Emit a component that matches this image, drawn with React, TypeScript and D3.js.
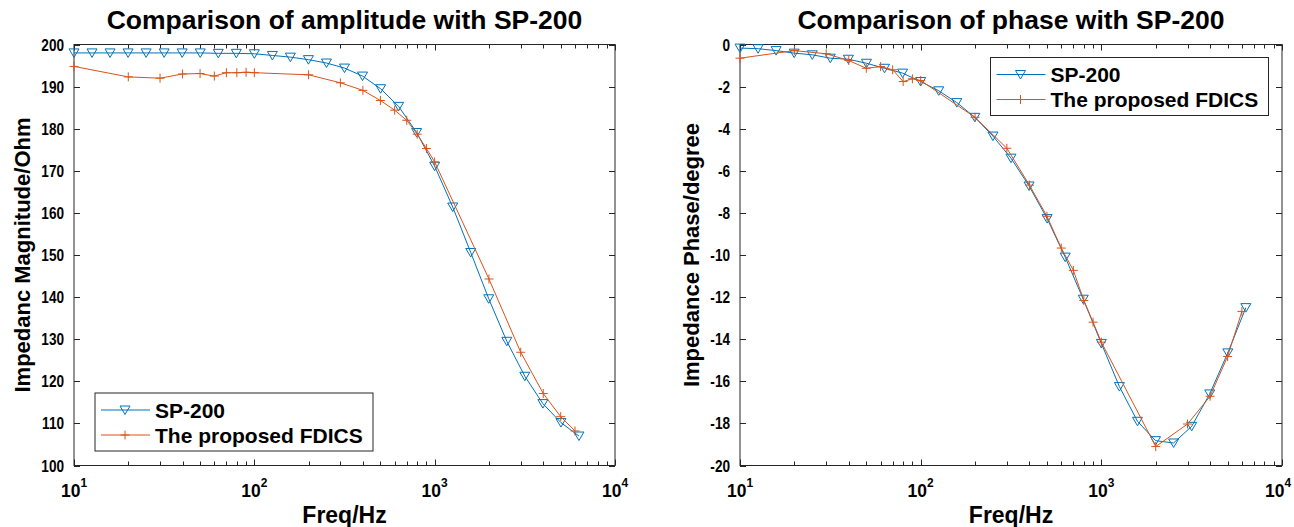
import React from 'react';
import * as d3 from 'd3';

// ---- data ----
const freqSP = [10, 12.59, 15.85, 19.95, 25.12, 31.62, 39.81, 50.12, 63.1, 79.43, 100, 125.9, 158.5, 199.5, 251.2, 316.2, 398.1, 501.2, 631, 794.3, 1000, 1259, 1585, 1995, 2512, 3162, 3981, 5012, 6310];
const ampSP = [198.0, 198.0, 198.0, 198.0, 198.0, 198.0, 198.0, 198.0, 197.9, 197.9, 197.8, 197.4, 197.0, 196.4, 195.6, 194.4, 192.5, 189.5, 185.3, 179.1, 171.1, 161.4, 150.6, 139.6, 129.5, 121.2, 114.7, 110.2, 107.0];
const phaseSP = [-0.17, -0.2, -0.29, -0.41, -0.49, -0.65, -0.7, -0.89, -1.13, -1.36, -1.76, -2.2, -2.76, -3.46, -4.35, -5.4, -6.72, -8.27, -10.1, -12.1, -14.2, -16.25, -17.9, -18.82, -18.93, -18.14, -16.6, -14.65, -12.5];

const freqFD = [10, 20, 30, 40, 50, 60, 70, 80, 90, 100, 200, 300, 400, 500, 600, 700, 800, 900, 1000, 2000, 3000, 4000, 5000, 6000];
const ampFD = [194.8, 192.3, 192.0, 193.0, 193.1, 192.5, 193.3, 193.3, 193.4, 193.3, 192.8, 190.9, 189.1, 186.7, 184.4, 182.0, 178.7, 175.3, 172.1, 144.3, 126.9, 117.1, 111.6, 108.2];
const phaseFD = [-0.65, -0.29, -0.44, -0.76, -1.13, -1.05, -1.2, -1.76, -1.63, -1.71, -3.46, -4.93, -6.68, -8.16, -9.67, -10.73, -12.16, -13.19, -14.14, -19.1, -18.03, -16.71, -14.82, -12.68];

const ampTicks = [100, 110, 120, 130, 140, 150, 160, 170, 180, 190, 200];
const phaseTicks = [0, -2, -4, -6, -8, -10, -12, -14, -16, -18, -20];
const decadeTicks = [10, 100, 1000, 10000];
const decadeExp = ['1', '2', '3', '4'];
const seriesNames = ['SP-200', 'The proposed FDICS'];

const BLUE = '#0072BD';
const ORANGE = '#D95319';
const AX = '#262626';
const FONT = '"Liberation Sans", Arial, Helvetica, sans-serif';

const W = 1294;
const H = 527;

function Tri({ x, y, color }: { x: number; y: number; color: string }) {
  return <path d={`M${x - 5},${y - 4}L${x + 5},${y - 4}L${x},${y + 4.5}Z`} fill="none" stroke={color} strokeWidth={1} />;
}
function Plus({ x, y, color }: { x: number; y: number; color: string }) {
  return <path d={`M${x - 4.5},${y}H${x + 4.5}M${x},${y - 4.5}V${y + 4.5}`} fill="none" stroke={color} strokeWidth={1} />;
}

function CText({ x, y, sx, anchor, size, children }: { x: number; y: number; sx: number; anchor: string; size: number; children: any }) {
  return (
    <text transform={`translate(${x},${y}) scale(${sx},1)`} textAnchor={anchor} fontSize={size} fill="#000">{children}</text>
  );
}

type PanelProps = {
  left: number; right: number; top: number; bottom: number;
  yDomain: [number, number]; yTicks: number[];
  ySP: number[]; yFD: number[];
  title: string; ylabel: string; ylabelX: number;
  legendX: number; legendY: number; lastShift: number;
};

function Panel(p: PanelProps) {
  const x = d3.scaleLog().domain([10, 10000]).range([p.left, p.right]);
  const y = d3.scaleLinear().domain(p.yDomain).range([p.bottom, p.top]);
  const allTicks = x.ticks();
  const line = d3.line<[number, number]>().x(d => x(d[0])).y(d => y(d[1]));
  const sp: [number, number][] = freqSP.map((f, i) => [f, p.ySP[i]]);
  const fd: [number, number][] = freqFD.map((f, i) => [f, p.yFD[i]]);
  const cx = (p.left + p.right) / 2;
  const cy = (p.top + p.bottom) / 2;
  const LW = 278, LH = 58;
  return (
    <g fontFamily={FONT} fontWeight="bold">
      <text x={cx} y={29} textAnchor="middle" fontSize={26.5} fill="#000">{p.title}</text>
      {/* axes box */}
      <rect x={p.left} y={p.top} width={p.right - p.left} height={p.bottom - p.top} fill="none" stroke={AX} strokeWidth={1} />
      {allTicks.map((t, i) => {
        const major = decadeTicks.includes(t);
        const len = major ? 6 : 4;
        const xx = Math.round(x(t)) + 0.5;
        return (
          <g key={'xt' + i} stroke={AX} strokeWidth={1}>
            <line x1={xx} x2={xx} y1={p.bottom} y2={p.bottom - len} />
            <line x1={xx} x2={xx} y1={p.top} y2={p.top + len} />
          </g>
        );
      })}
      {p.yTicks.map((t, i) => {
        const yy = Math.round(y(t)) + 0.5;
        return (
          <g key={'yt' + i}>
            <line x1={p.left} x2={p.left + 6} y1={yy} y2={yy} stroke={AX} />
            <line x1={p.right} x2={p.right - 6} y1={yy} y2={yy} stroke={AX} />
            <CText x={p.left - 10} y={yy + 5.5} sx={0.85} anchor="end" size={16}>{t}</CText>
          </g>
        );
      })}
      {decadeTicks.map((t, i) => (
        <CText key={'xl' + i} x={x(t) + (i === 3 ? p.lastShift : 0)} y={497} sx={0.92} anchor="middle" size={19}>
          10<tspan dy={-10} fontSize={13}>{decadeExp[i]}</tspan>
        </CText>
      ))}
      <text x={cx} y={523} textAnchor="middle" fontSize={23} fill="#000">Freq/Hz</text>
      <text transform={`translate(${p.ylabelX},${cy}) rotate(-90)`} textAnchor="middle" fontSize={22} fill="#000">{p.ylabel}</text>
      {/* series */}
      <path d={line(sp) || ''} fill="none" stroke={BLUE} strokeWidth={1} />
      {sp.map((d, i) => <Tri key={'s' + i} x={x(d[0])} y={y(d[1])} color={BLUE} />)}
      <path d={line(fd) || ''} fill="none" stroke={ORANGE} strokeWidth={1} />
      {fd.map((d, i) => <Plus key={'f' + i} x={x(d[0])} y={y(d[1])} color={ORANGE} />)}
      {/* legend */}
      <g transform={`translate(${p.legendX},${p.legendY})`}>
        <rect x={0} y={0} width={LW} height={LH} fill="#fff" stroke={AX} strokeWidth={1} />
        <line x1={6} x2={55} y1={17} y2={17} stroke={BLUE} />
        <Tri x={30} y={17} color={BLUE} />
        <text x={60} y={17} dy="0.36em" fontSize={21} fill="#000">{seriesNames[0]}</text>
        <line x1={6} x2={55} y1={42} y2={42} stroke={ORANGE} />
        <Plus x={30} y={42} color={ORANGE} />
        <text x={60} y={42} dy="0.36em" fontSize={21} fill="#000">{seriesNames[1]}</text>
      </g>
    </g>
  );
}

export default function App() {
  return (
    <svg width={W} height={H} style={{ position: 'absolute', left: 0, top: 0, background: '#fff' }}>
      <rect x={0} y={0} width={W} height={H} fill="#fff" />
      <Panel left={74} right={615} top={44.5} bottom={465.5} yDomain={[100, 200]} yTicks={ampTicks}
        ySP={ampSP} yFD={ampFD} title="Comparison of amplitude with SP-200" ylabel="Impedanc Magnitude/Ohm"
        ylabelX={30} legendX={95} legendY={393} lastShift={0} />
      <Panel left={740} right={1282} top={44.5} bottom={465.5} yDomain={[-20, 0]} yTicks={phaseTicks}
        ySP={phaseSP} yFD={phaseFD} title="Comparison of phase with SP-200" ylabel="Impedance Phase/degree"
        ylabelX={699} legendX={990.5} legendY={57.5} lastShift={-4} />
    </svg>
  );
}
